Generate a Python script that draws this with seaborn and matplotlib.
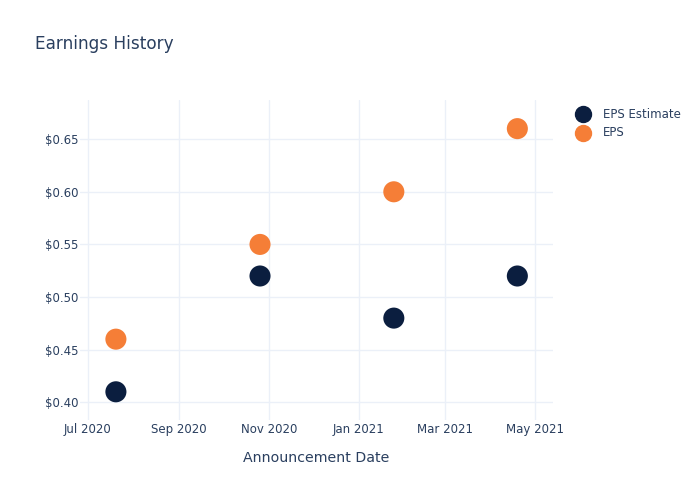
import matplotlib
matplotlib.use("Agg")
import matplotlib.pyplot as plt
import matplotlib.dates as mdates
import matplotlib.ticker as mticker
import seaborn as sns
import pandas as pd

dates = ["2020-07-20", "2020-10-26", "2021-01-25", "2021-04-19"]
eps_estimate = [0.41, 0.52, 0.48, 0.52]
eps_actual = [0.46, 0.55, 0.60, 0.66]
series_names = ["EPS Estimate", "EPS"]
colors = ["#0b1e3f", "#f57e37"]

df = pd.concat([
    pd.DataFrame({"date": pd.to_datetime(dates), "value": eps_estimate, "series": series_names[0]}),
    pd.DataFrame({"date": pd.to_datetime(dates), "value": eps_actual, "series": series_names[1]}),
])

sns.set_theme(style="white")
plt.rcParams["font.family"] = ["DejaVu Sans"]
text_color = "#2a3f5f"
grid_color = "#ebf0f8"

fig = plt.figure(figsize=(7, 5), dpi=100)
ax = fig.add_axes([80 / 700, 1 - 420 / 500, (553 - 80) / 700, (420 - 100) / 500])

sns.scatterplot(data=df, x="date", y="value", hue="series", hue_order=series_names,
                palette=colors, s=230, edgecolor="none", ax=ax, legend=False, zorder=3)

ax.set_xlim(pd.Timestamp("2020-06-25 14:00"), pd.Timestamp("2021-05-13 06:00"))
ax.set_ylim(0.3832, 0.6872)
ax.xaxis.set_major_locator(mdates.MonthLocator(bymonth=[1, 3, 5, 7, 9, 11]))
ax.xaxis.set_major_formatter(mdates.DateFormatter("%b %Y"))
ax.yaxis.set_major_locator(mticker.MultipleLocator(0.05))
ax.yaxis.set_major_formatter(mticker.FuncFormatter(lambda v, p: f"${v:.2f}"))

ax.grid(True, color=grid_color, linewidth=1)
ax.set_axisbelow(True)
for s in ax.spines.values():
    s.set_visible(False)
ax.tick_params(axis="both", length=0, labelsize=8.5, colors=text_color)
ax.tick_params(axis="y", pad=1)
ax.tick_params(axis="x", pad=2)
ax.set_xlabel("Announcement Date", fontsize=10.2, color=text_color, labelpad=11)
ax.set_ylabel("")

fig.text(35 / 700, 1 - 44 / 500, "Earnings History", fontsize=12.2, color=text_color,
         ha="left", va="center")

for i, (name, c) in enumerate(zip(series_names, colors)):
    y = 1 - (114 + 19 * i) / 500
    fig.lines.append(plt.Line2D([583 / 700], [y], marker="o", markersize=11.5, color=c,
                                linestyle="none", transform=fig.transFigure))
    fig.text(603 / 700, y, name, fontsize=8.5, color=text_color, ha="left", va="center")

fig.savefig("out.png", dpi=100)
